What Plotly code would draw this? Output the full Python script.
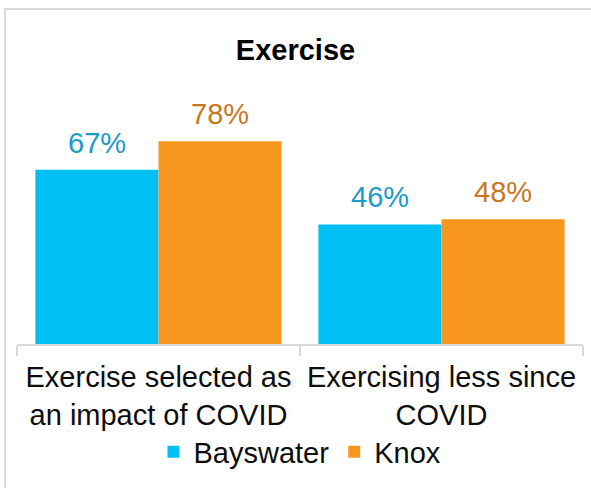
import plotly.graph_objects as go

categories = ["Exercise selected as<br>an impact of COVID", "Exercising less since<br>COVID"]
bayswater = [67, 46]
knox = [78, 48]
series_names = ["Bayswater", "Knox"]
bar_colors = ["#00BFF3", "#F7971F"]
label_colors = ["#1B9BC8", "#C9781E"]

FONT = "Liberation Sans, Arial, sans-serif"
bargap = 0.13

fig = go.Figure()
for name, vals, col in zip(series_names, [bayswater, knox], bar_colors):
    fig.add_trace(go.Bar(x=categories, y=vals, name=name, marker=dict(color=col, line=dict(width=0))))

offset = (1 - bargap) / 4
annotations = []
for s, (vals, lc) in enumerate(zip([bayswater, knox], label_colors)):
    sign = -1 if s == 0 else 1
    for i, v in enumerate(vals):
        annotations.append(dict(
            x=i + sign * offset, y=v, xref="x", yref="y",
            text=f"{v}%", showarrow=False, yanchor="bottom", yshift=9,
            font=dict(family=FONT, size=29, color=lc)))

n = len(categories)
fig.update_layout(
    width=591, height=488,
    margin=dict(l=17, r=8, t=84, b=144),
    paper_bgcolor="white", plot_bgcolor="white",
    barmode="group", bargap=bargap, bargroupgap=0,
    title=dict(text="<b>Exercise</b>", x=0.5, xanchor="center", y=1 - 50 / 488, yanchor="middle",
               font=dict(family=FONT, size=29, color="#000000")),
    font=dict(family=FONT, size=29, color="#000000"),
    xaxis=dict(type="category", showline=True, linecolor="#D9D9D9", linewidth=2,
               ticks="outside", ticklen=10, tickwidth=2, tickcolor="#D9D9D9", tickson="boundaries",
               ticklabelstandoff=6,
               tickfont=dict(family=FONT, size=29, color="#0D0D0D"), showgrid=False, zeroline=False),
    xaxis2=dict(overlaying="x", anchor="y", side="bottom", type="linear", range=[-0.5, n - 0.5],
                tickvals=[i - 0.5 for i in range(n + 1)], ticks="inside", ticklen=10, tickwidth=2,
                tickcolor="#D9D9D9", showticklabels=False, showline=False, showgrid=False, zeroline=False),
    yaxis=dict(range=[0, 100], visible=False),
    legend=dict(orientation="h", x=0.5, xanchor="center", y=(344 - 452) / 260, yanchor="middle",
                font=dict(family=FONT, size=29, color="#0D0D0D")),
    annotations=annotations,
    shapes=[dict(type="rect", xref="paper", yref="paper",
                 x0=(5 - 17) / 566, x1=1.2, y0=(344 - 9) / 260, y1=-1.0,
                 line=dict(color="#D9D9D9", width=2), fillcolor="rgba(0,0,0,0)", layer="below")],
)

fig.write_html("out.html", config={"displayModeBar": False},
               post_script="document.body.style.margin='0';document.body.style.overflow='hidden';")
